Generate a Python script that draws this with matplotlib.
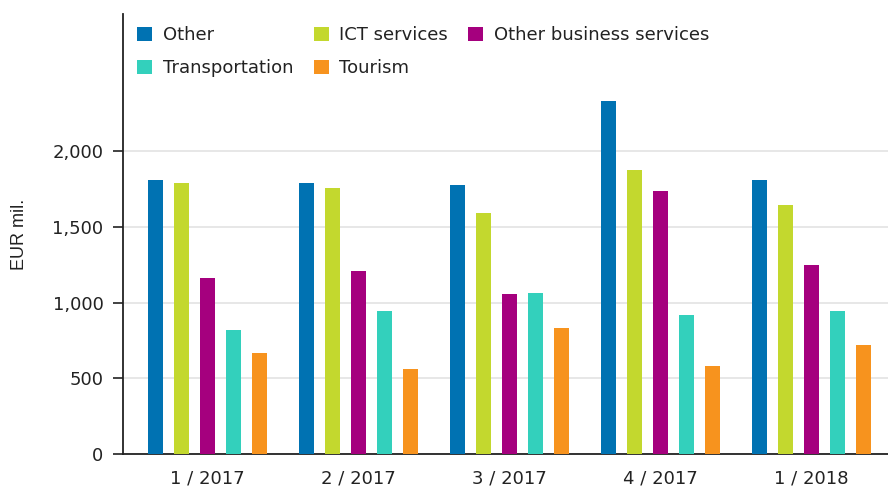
import matplotlib
matplotlib.use("Agg")
import matplotlib.pyplot as plt
import numpy as np

plt.rcParams['font.family'] = ['DejaVu Sans']

categories = ["1 / 2017", "2 / 2017", "3 / 2017", "4 / 2017", "1 / 2018"]
series_names = ["Other", "ICT services", "Other business services", "Transportation", "Tourism"]
other = [1810, 1790, 1778, 2330, 1810]
ict = [1790, 1755, 1590, 1875, 1645]
obs = [1162, 1208, 1056, 1736, 1248]
transport = [818, 944, 1062, 917, 944]
tourism = [665, 561, 830, 581, 719]
colors = ["#0072b2", "#c3d82e", "#a5007e", "#33d0bc", "#f7931e"]

values = [other, ict, obs, transport, tourism]

fig = plt.figure(figsize=(8.88, 4.88), dpi=100)
ax = fig.add_axes([123 / 888, 34 / 488, 765 / 888, 440 / 488])

x = np.arange(len(categories))
pitch = 0.172
width = 0.10
handles = []
for i, (name, vals, c) in enumerate(zip(series_names, values, colors)):
    h = ax.bar(x + (i - 2) * pitch, vals, width=width, color=c, label=name, zorder=3)
    handles.append(h)

ax.set_xlim(-0.56, 4.507)
ax.set_ylim(0, 2905)
fs = 13
ax.set_yticks([0, 500, 1000, 1500, 2000])
ax.set_yticklabels(["0", "500", "1,000", "1,500", "2,000"], fontsize=fs, color="#222222")
ax.set_xticks(x)
ax.set_xticklabels(categories, fontsize=fs, color="#222222")
ax.tick_params(axis="x", length=0, pad=11)
ax.tick_params(axis="y", length=7.5, width=1.2, color="#222222", pad=6.5)
ax.grid(axis="y", color="#e3e3e3", linewidth=1.2, zorder=0)
for s in ["top", "right"]:
    ax.spines[s].set_visible(False)
ax.spines["left"].set_color("#222222")
ax.spines["bottom"].set_color("#222222")
ax.spines["left"].set_linewidth(1.3)
ax.spines["bottom"].set_linewidth(1.3)
fig.text(20 / 888, 1 - 234 / 488, "EUR mil.", rotation=90, ha="center", va="center",
         fontsize=13, color="#222222", family="Liberation Sans")

order = [0, 3, 1, 4, 2]
leg = ax.legend([handles[i] for i in order], [series_names[i] for i in order],
                ncol=3, loc="upper left", bbox_to_anchor=(14 / 765, 1 - 12 / 440), frameon=False,
                fontsize=fs, handlelength=0.83, handleheight=0.83, handletextpad=0.6,
                columnspacing=1.12, labelspacing=0.85, borderaxespad=0, borderpad=0)
for t in leg.get_texts():
    t.set_color("#222222")

fig.savefig("out.png", dpi=100)
